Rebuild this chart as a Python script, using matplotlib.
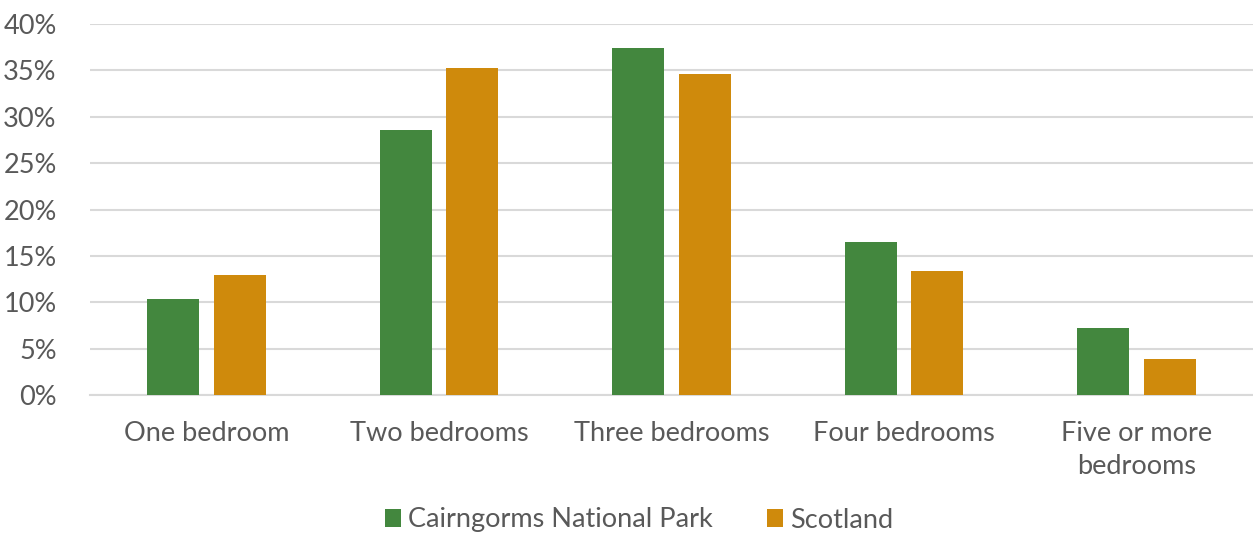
import matplotlib.pyplot as plt
import numpy as np
from matplotlib.ticker import PercentFormatter

# Bedroom share
categories = ['One bedroom', 'Two bedrooms', 'Three bedrooms', 'Four bedrooms', 'Five or more\nbedrooms']
cairngorms = [10.3, 28.6, 37.4, 16.5, 7.2]
scotland = [12.9, 35.3, 34.6, 13.4, 3.9]

green = '#43873E'
orange = '#CF8A0C'
text_col = '#595959'

plt.rcParams['font.family'] = ['Lato', 'DejaVu Sans']

fig = plt.figure(figsize=(12.53, 5.34), dpi=100)
ax = fig.add_axes([90 / 1253, 1 - 395 / 534, 1 - 90 / 1253, (395 - 24) / 534])

x = np.arange(len(categories))
w = 0.224
ax.bar(x - 0.143, cairngorms, w, color=green, label='Cairngorms National Park', zorder=3)
ax.bar(x + 0.143, scotland, w, color=orange, label='Scotland', zorder=3)

ax.set_xlim(-0.5, len(categories) - 0.5)
ax.set_ylim(0, 40)
ax.set_yticks(np.arange(0, 41, 5))
ax.yaxis.set_major_formatter(PercentFormatter(decimals=0))
ax.grid(axis='y', color='#D9D9D9', linewidth=1.5, zorder=0)

for s in ['top', 'right', 'left']:
    ax.spines[s].set_visible(False)
ax.spines['bottom'].set_color('#D9D9D9')
ax.spines['bottom'].set_linewidth(1.5)

ax.set_xticks(x)
ax.set_xticklabels(categories, linespacing=1.4)
ax.tick_params(axis='both', length=0, labelsize=19.5, colors=text_col)
ax.tick_params(axis='x', pad=19)
ax.tick_params(axis='y', pad=24)

leg = fig.legend(loc='center', bbox_to_anchor=(0.51, 1 - 520 / 534), ncol=2, frameon=False,
                 fontsize=19.5, handlelength=0.6, handleheight=0.6, handletextpad=0.25,
                 columnspacing=2.0, labelcolor=text_col)

fig.savefig('out.png', dpi=100)
